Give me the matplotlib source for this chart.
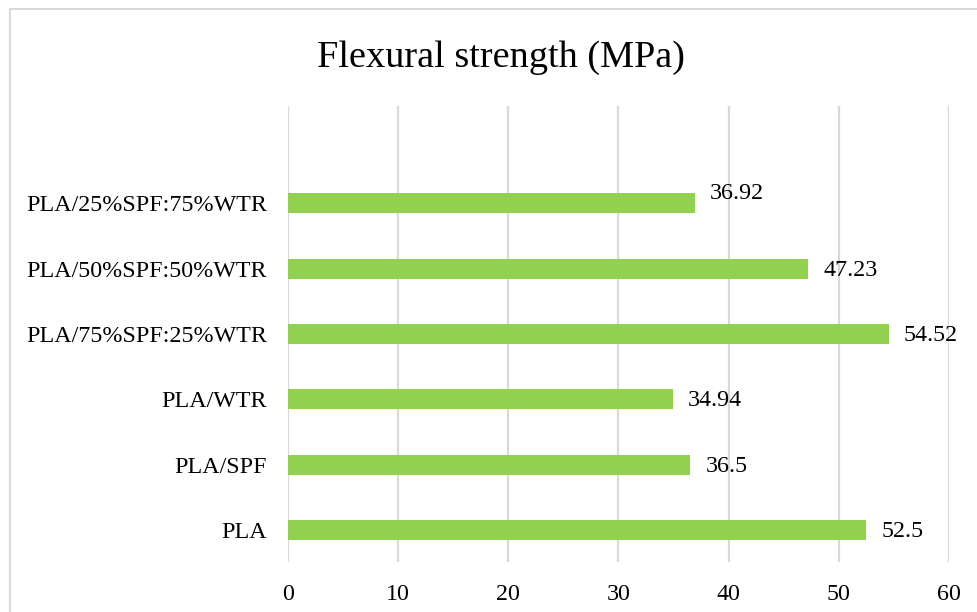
import numpy as np
import matplotlib
matplotlib.use("Agg")
import matplotlib.pyplot as plt
from matplotlib.patches import Rectangle

plt.rcParams['font.family'] = ['Liberation Serif', 'DejaVu Serif']

# Flexural strength of the blends (MPa), bottom to top
samples = ['PLA', 'PLA/SPF', 'PLA/WTR', 'PLA/75%SPF:25%WTR',
           'PLA/50%SPF:50%WTR', 'PLA/25%SPF:75%WTR']
strength = [52.5, 36.5, 34.94, 54.52, 47.23, 36.92]
x_ticks = [0, 10, 20, 30, 40, 50, 60]

bar_color = '#92D050'
grid_color = '#D9D9D9'

fig = plt.figure(figsize=(9.78, 6.12), dpi=100)
ax = fig.add_axes([0.2945, 0.0817, 0.6758, 0.7451])

y = np.arange(len(samples))
ax.barh(y, strength, height=0.306, color=bar_color, zorder=3)

ax.set_xlim(0, 60)
ax.set_ylim(-0.49, 6.49)
ax.set_xticks(x_ticks)
ax.set_yticks(y)
ax.set_yticklabels(samples)
ax.tick_params(axis='both', length=0, labelsize=17.3)
ax.tick_params(axis='y', pad=15)
ax.tick_params(axis='x', pad=16)
ax.grid(axis='x', color=grid_color, lw=1.6, zorder=0)
for s in ax.spines.values():
    s.set_visible(False)

# value labels next to each bar (the top one sits a little higher)
for i, v in enumerate(strength):
    dy = 7 if i == len(strength) - 1 else -1
    ax.annotate(f'{v:g}', xy=(v, i), xytext=(11, dy), textcoords='offset points',
                ha='left', va='center', fontsize=17.3)

fig.text(0.5125, 1 - 58 / 612, 'Flexural strength (MPa)', ha='center', va='center',
         fontsize=27.5)

# chart frame
fig.patches.append(Rectangle((10 / 978, -0.1), 1.2, 1.1 - 9 / 612, transform=fig.transFigure,
                             fill=False, edgecolor=grid_color, lw=1.5, zorder=0))

fig.savefig('out.png', dpi=100, facecolor='white')
